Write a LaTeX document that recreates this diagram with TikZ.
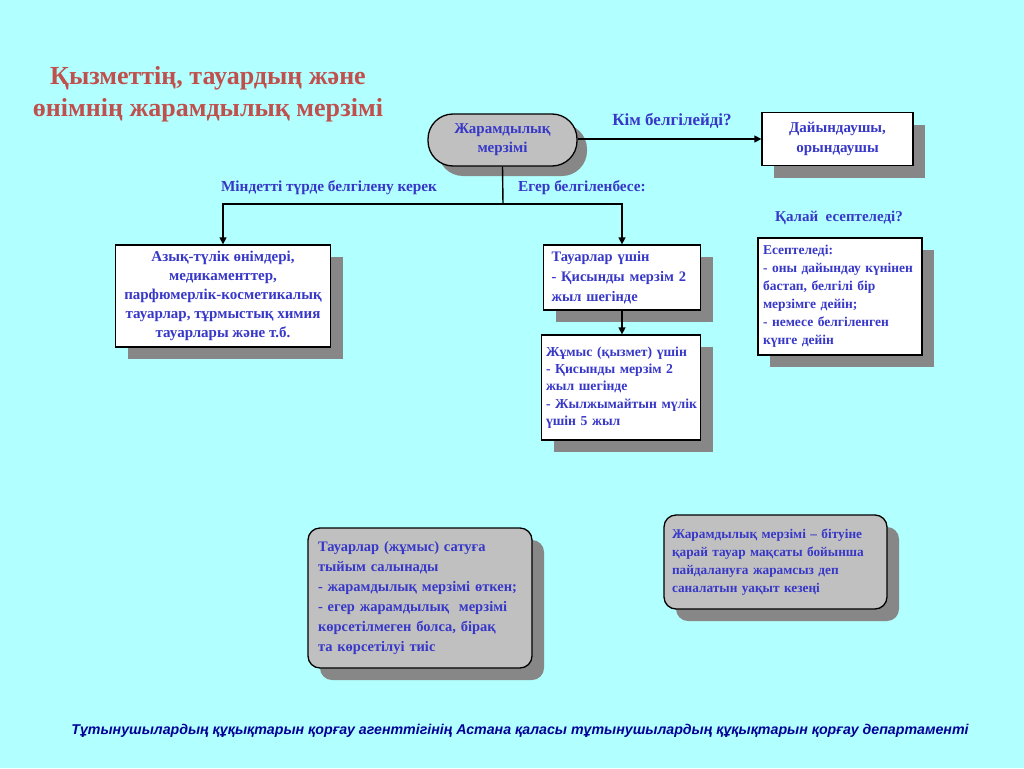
\documentclass[tikz,border=0pt]{standalone}
\usepackage{fontspec}
\setmainfont{Liberation Serif}
\setsansfont{Liberation Sans}
\usetikzlibrary{shadows,arrows.meta}
\definecolor{bg}{RGB}{178,255,255}
\definecolor{txt}{RGB}{55,55,200}
\definecolor{ttl}{RGB}{192,80,77}
\definecolor{foot}{RGB}{0,0,150}
\definecolor{shd}{RGB}{135,135,135}
\definecolor{boxgray}{RGB}{192,192,192}
\begin{document}
\begin{tikzpicture}[x=1pt,y=-1pt,
  every node/.style={text=txt,font=\bfseries\fontsize{15}{19}\selectfont},
  shd/.style={drop shadow={shadow xshift=12pt,shadow yshift=-12pt,fill=shd,opacity=1}},
  wbox/.style={draw=black,line width=1.3pt,fill=white,shd,inner sep=0pt},
  gbox/.style={draw=black,line width=1.3pt,fill=boxgray,shd,rounded corners=12pt,inner sep=0pt},
  lbl/.style={font=\bfseries\fontsize{15.3}{18}\selectfont},
  conn/.style={line width=1.4pt,draw=black},
  arr/.style={conn,-{Triangle[length=7pt,width=7pt]}}
]
\fill[bg] (0,0) rectangle (1024,768);
\useasboundingbox (0,0) rectangle (1024,768);

% title
\node[text=ttl,align=center,font=\bfseries\fontsize{26}{32}\selectfont] (title) at (208,94)
  {Қызметтің, тауардың және\\өнімнің жарамдылық мерзімі};

% pill
\node[draw=black,line width=1.3pt,fill=boxgray,drop shadow={shadow xshift=10pt,shadow yshift=-10pt,fill=shd,opacity=1},rounded corners=25pt,minimum width=149pt,minimum height=52pt,align=center,inner sep=0pt] (pill) at (502.5,140)
  {Жарамдылық\\[0pt]мерзімі};

\node[wbox,minimum width=151pt,minimum height=53pt,align=center] (maker) at (837.5,139)
  {Дайындаушы,\\[1pt]орындаушы};

\node[lbl,font=\bfseries\fontsize{17}{19}\selectfont] (who) at (672,121) {Кім белгілейді?};
\draw[arr] (pill.east |- maker.west) -- (maker.west);

% branches
\coordinate (j) at (503,204);
\draw[conn] (pill.south) -- (j);
\node[lbl] (must) at (329,188) {Міндетті түрде белгілену керек};
\node[lbl] (ifnot) at (582,188) {Егер белгіленбесе:};

\node[wbox,minimum width=215pt,minimum height=102pt,align=center] (food) at (223,296)
  {Азық-түлік өнімдері,\\медикаменттер,\\парфюмерлік-косметикалық\\тауарлар, тұрмыстық химия\\тауарлары және т.б.};

\node[wbox,minimum width=157pt,minimum height=65pt,text width=141pt,align=left,font=\bfseries\fontsize{14.5}{20}\selectfont] (goods) at (622,277.5)
  {Тауарлар үшін\\- Қисынды мерзім 2\\жыл шегінде};

\node[wbox,minimum width=159pt,minimum height=105pt,text width=156pt,align=left,font=\bfseries\fontsize{13.7}{17.2}\selectfont] (work) at (621,387.5)
  {\hspace*{3pt}Жұмыс (қызмет) үшін\\\hspace*{3pt}- Қисынды мерзім 2\\\hspace*{3pt}жыл шегінде\\\hspace*{3pt}- Жылжымайтын мүлік\\\hspace*{3pt}үшін 5 жыл};

\draw[arr] (j) -| (food.north);
\draw[arr] (j) -| (goods.north);
\draw[arr] (goods.south) -- (goods.south |- work.north);

% how
\node[lbl,font=\bfseries\fontsize{15}{18}\selectfont] (how) at (839,218) {Қалай\ \ есептеледі?};
\node[wbox,minimum width=164pt,minimum height=117pt,text width=154pt,align=left,font=\bfseries\fontsize{13.5}{18}\selectfont] (calc) at (840,296.5)
  {Есептеледі:\\- оны дайындау күнінен\\бастап, белгілі бір\\мерзімге дейін;\\- немесе белгіленген\\күнге дейін};

% gray boxes
\node[gbox,minimum width=224pt,minimum height=140pt,text width=204pt,align=left,font=\bfseries\fontsize{14.5}{20}\selectfont] (ban) at (420,598)
  {Тауарлар (жұмыс) сатуға\\тыйым салынады\\- жарамдылық мерзімі өткен;\\- егер жарамдылық\ \ мерзімі\\көрсетілмеген болса, бірақ\\та көрсетілуі тиіс\\[6pt]};

\node[gbox,minimum width=223pt,minimum height=94pt,text width=207pt,align=left,font=\bfseries\fontsize{13.3}{18}\selectfont] (def) at (775.5,562)
  {Жарамдылық мерзімі – бітуіне\\қарай тауар мақсаты бойынша\\пайдалануға жарамсыз деп\\саналатын уақыт кезеңі};

% footer
\node[text=foot,font=\sffamily\bfseries\itshape\fontsize{14.2}{16}\selectfont] (foot) at (520,731)
  {Тұтынушылардың құқықтарын қорғау агенттігінің Астана қаласы тұтынушылардың құқықтарын қорғау департаменті};
\end{tikzpicture}
\end{document}
